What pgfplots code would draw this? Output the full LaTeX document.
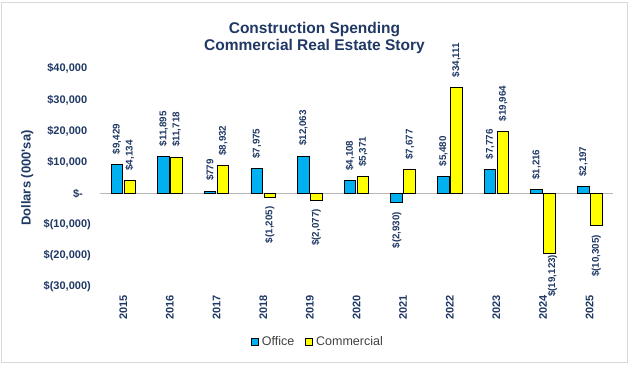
\documentclass[border=0pt]{standalone}
\usepackage{pgfplots}
\pgfplotsset{compat=1.18}
\usepackage{pgfplotstable}
\usepackage{fontspec}
\setmainfont{Liberation Sans}
\definecolor{navy}{HTML}{1F3864}
\definecolor{officeblue}{HTML}{00B0F0}
\definecolor{commyellow}{HTML}{FFFF00}
\definecolor{legtext}{HTML}{404040}

\pgfplotstableread{
x office olab comm clab
0 9429 9,429 4134 4,134
1 11895 11,895 11718 11,718
2 779 779 8932 8,932
3 7975 7,975 -1205 (1,205)
4 12063 12,063 -2077 (2,077)
5 4108 4,108 5371 5,371
6 -2930 (2,930) 7677 7,677
7 5480 5,480 34111 34,111
8 7776 7,776 19964 19,964
9 1216 1,216 -19123 (19,123)
10 2197 2,197 -10305 (10,305)
}\data

\pgfplotsset{
  mylegend/.style={legend image code/.code={\draw[##1,draw=black,line width=0.8bp] (0bp,-3.5bp) rectangle (7bp,3.5bp);}},
  labs/.style 2 args={
    forget plot, draw=none, fill=none,
    nodes near coords={\rotatebox{90}{\$\pgfplotspointmeta}},
    point meta=explicit symbolic,
    every node near coord/.append style={
      font=\bfseries\fontsize{9.8bp}{12bp}\selectfont, text=navy, inner ysep=#2, inner xsep=0pt, anchor=#1},
  },
}

\begin{document}
\begin{tikzpicture}
\path[use as bounding box] (-100bp,-79bp) rectangle (530bp,287bp);
\draw[black!15, line width=1bp] (-98.5bp,-75.5bp) rectangle (527.5bp,284.5bp);
\begin{axis}[
  scale only axis, width=513bp, height=218bp,
  at={(0,0)}, anchor=south west,
  ymin=-30000, ymax=40000, xmin=-0.5, xmax=10.5,
  clip=false, scaled y ticks=false,
  ybar, bar width=11.5bp,
  axis line style={draw=none}, major tick length=0pt,
  xtick={0,1,2,3,4,5,6,7,8,9,10},
  xticklabels={2015,2016,2017,2018,2019,2020,2021,2022,2023,2024,2025},
  ytick={-30000,-20000,-10000,0,10000,20000,30000,40000},
  yticklabels={{\$(30,000)},{\$(20,000)},{\$(10,000)},{\$-\kern8bp},{\$10,000\phantom{)}},{\$20,000\phantom{)}},{\$30,000\phantom{)}},{\$40,000\phantom{)}}},
  tick label style={font=\bfseries\fontsize{11bp}{13bp}\selectfont, text=navy},
  xticklabel style={rotate=90, anchor=east, inner xsep=8bp, inner ysep=0pt},
  yticklabel style={anchor=east, inner sep=0pt, xshift=-9bp},
  extra y ticks={0}, extra y tick labels={},
  extra y tick style={grid=major, major grid style={draw=black!28, line width=0.8bp}},
  ylabel={Dollars (000\textquotesingle sa)},
  ylabel style={at={(axis description cs:-0.142,0.5)}, anchor=center,
    font=\bfseries\fontsize{13bp}{15bp}\selectfont, text=navy},
  legend style={at={(axis description cs:0.425,-0.252)}, anchor=center, draw=none, fill=none,
    font=\fontsize{12.5bp}{14bp}\selectfont, text=legtext, legend columns=2,
    /tikz/every even column/.append style={column sep=9bp},
    /tikz/every odd column/.append style={column sep=1bp}},
]
\addplot[fill=officeblue, draw=black, line width=0.8bp, bar shift=-6.5bp, mylegend]
  table[x=x, y=office] {\data};
\addplot[fill=commyellow, draw=black, line width=0.8bp, bar shift=6.5bp, mylegend]
  table[x=x, y=comm] {\data};
\legend{Office,Commercial}
% value labels: above positive bars, below negative bars
\addplot[labs={south}{10bp}, bar shift=-6.5bp, restrict y to domain=0:50000]
  table[x=x, y=office, meta=olab] {\data};
\addplot[labs={north}{9bp}, bar shift=-6.5bp, restrict y to domain=-50000:0]
  table[x=x, y=office, meta=olab] {\data};
\addplot[labs={south}{10bp}, bar shift=6.5bp, restrict y to domain=0:50000]
  table[x=x, y=comm, meta=clab] {\data};
\addplot[labs={north}{9bp}, bar shift=6.5bp, restrict y to domain=-15000:0]
  table[x=x, y=comm, meta=clab] {\data};
\addplot[labs={north}{1.5bp}, bar shift=6.5bp, xshift=3bp, restrict y to domain=-50000:-15000]
  table[x=x, y=comm, meta=clab] {\data};
\end{axis}
\node[font=\bfseries\fontsize{15.5bp}{17bp}\selectfont, text=navy, align=center] at (214.5bp,249bp)
  {Construction Spending\\Commercial Real Estate Story};
\end{tikzpicture}
\end{document}
